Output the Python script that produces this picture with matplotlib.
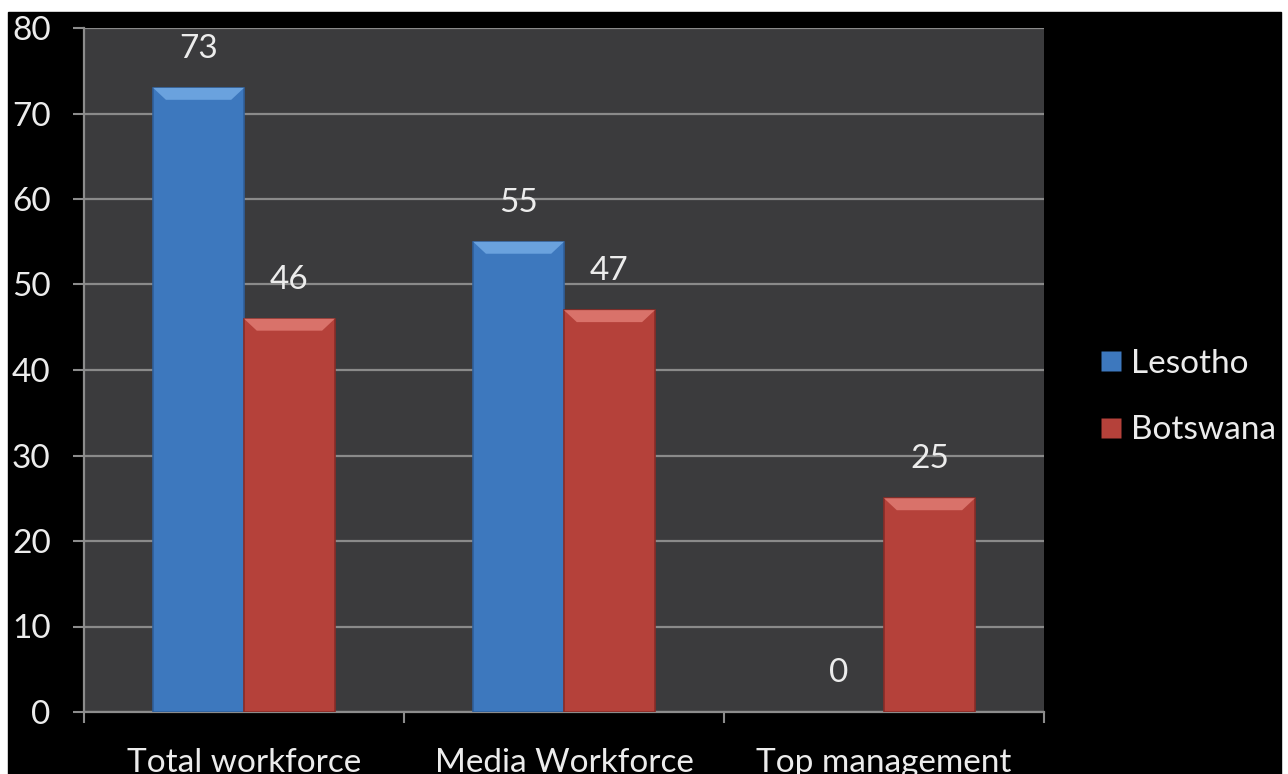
import matplotlib
matplotlib.use("Agg")
import matplotlib.pyplot as plt
from matplotlib.patches import Rectangle, Polygon
from matplotlib.lines import Line2D
import numpy as np

categories = ["Total workforce", "Media Workforce", "Top management"]
lesotho = [73, 55, 0]
botswana = [46, 47, 25]
series_names = ["Lesotho", "Botswana"]

blue = "#3d78be"
blue_top = "#6aa2de"
blue_edge = "#2f5f9a"
red = "#b5413a"
red_top = "#d9726a"
red_edge = "#8a2c27"
txt = "#ececec"

plt.rcParams['font.family'] = ['Lato', 'DejaVu Sans']

fig = plt.figure(figsize=(12.88, 7.74), dpi=100)
fig.patch.set_facecolor("white")
fig.add_artist(Rectangle((8 / 1288, 0), (1281 - 8) / 1288, (774 - 12) / 774,
                         transform=fig.transFigure, color="black", zorder=-5))

ax = fig.add_axes([84 / 1288, 62 / 774, 960 / 1288, 684 / 774])
ax.set_facecolor("#3b3b3d")

x = np.arange(len(categories))
w = 0.284


def bevel_bars(xs, vals, face, top, edge):
    bars = ax.bar(xs, vals, w, color=face, edgecolor=edge, linewidth=1.2, zorder=3)
    for b in bars:
        h = b.get_height()
        if h <= 0:
            b.set_visible(False)
            continue
        x0 = b.get_x()
        x1 = x0 + b.get_width()
        d = min(1.4, h / 2)
        dx = 0.04
        ax.add_patch(Polygon([(x0, h), (x1, h), (x1 - dx, h - d), (x0 + dx, h - d)],
                             closed=True, facecolor=top, edgecolor="none", zorder=4))
    return bars


b1 = bevel_bars(x - w / 2, lesotho, blue, blue_top, blue_edge)
b2 = bevel_bars(x + w / 2, botswana, red, red_top, red_edge)

for bars, vals in ((b1, lesotho), (b2, botswana)):
    for b, v in zip(bars, vals):
        ax.annotate(str(v), (b.get_x() + b.get_width() / 2, v), xytext=(0, 28),
                    textcoords="offset points", ha="center", va="center",
                    fontsize=24, color=txt)

ax.set_ylim(0, 80)
ax.set_xlim(-0.5, len(categories) - 0.5)
ax.set_yticks(range(0, 81, 10))
ax.yaxis.grid(True, color="#8a8a8a", linewidth=1.6, zorder=1)
ax.set_axisbelow(True)

ax.set_xticks(x)
ax.set_xticklabels(categories)
ax.set_xticks(np.arange(-0.5, len(categories), 1), minor=True)
ax.tick_params(axis="x", which="major", length=0, pad=26, labelsize=24, labelcolor=txt)
ax.tick_params(axis="x", which="minor", length=8, width=1.5, color="#8c8c8c")
ax.tick_params(axis="y", length=8, width=1.5, color="#8c8c8c", pad=16,
               labelsize=24, labelcolor=txt)

for s in ("top", "right"):
    ax.spines[s].set_visible(False)
for s in ("left", "bottom"):
    ax.spines[s].set_color("#8c8c8c")
    ax.spines[s].set_linewidth(1.6)

handles = [Line2D([], [], marker="s", linestyle="none", markersize=14,
                  markerfacecolor=c, markeredgecolor="none") for c in (blue, red)]
leg = fig.legend(handles, series_names, loc="center left",
                 bbox_to_anchor=(1089 / 1288, 377 / 774), frameon=False,
                 fontsize=24, labelspacing=1.1, handletextpad=0.15,
                 handlelength=0.9, borderaxespad=0, borderpad=0.2)
for t in leg.get_texts():
    t.set_color(txt)

fig.savefig("out.png", dpi=100, facecolor=fig.get_facecolor())
